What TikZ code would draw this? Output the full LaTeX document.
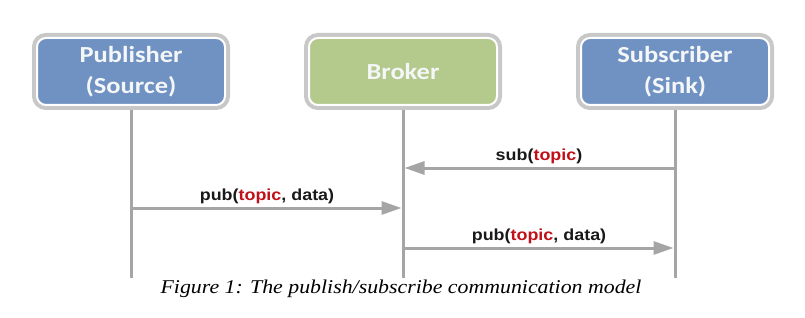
\documentclass[tikz,border=0pt]{standalone}
\usepackage{fontspec}
\usepackage{tikz}
\usepackage{xcolor}
\usetikzlibrary{arrows.meta}
\setmainfont{Liberation Serif}
\newfontfamily\boxfont[FakeStretch=1.15]{Carlito}
\newfontfamily\msgfont[FakeStretch=1.12]{Liberation Sans}
\newfontfamily\capfont[FakeStretch=1.12]{Liberation Serif}
\definecolor{pubblue}{RGB}{111,146,194}
\definecolor{brogreen}{RGB}{180,201,140}
\definecolor{frame}{RGB}{200,200,200}
\definecolor{wire}{RGB}{165,165,165}
\definecolor{topicred}{RGB}{192,16,24}
\definecolor{boxtext}{RGB}{244,246,248}

\begin{document}
\begin{tikzpicture}[
      x=1pt, y=-1pt,
      >={Triangle[length=20pt, width=13pt]},
      actor/.style={rounded corners=9pt, minimum width=188pt,
                    minimum height=67pt, align=center, text=boxtext,
                    font=\boxfont\bfseries\fontsize{23}{31}\selectfont,
                    draw=white, line width=2pt,
                    preaction={draw=frame, line width=10pt}},
      life/.style={wire, line width=3pt, shorten <=4pt},
      msg/.style={->, wire, line width=3pt, shorten >=1.5pt, shorten <=1.5pt},
      lbl/.style={font=\msgfont\bfseries\fontsize{16}{18}\selectfont,
                  text=black!90, inner sep=0pt, above=3pt},
    ]
    \useasboundingbox (0,0) rectangle (805,318);

    % --- boxes ---
    \node[actor, fill=pubblue] (pub) at (131,71.5) {Publisher\\(Source)};
    \node[actor, fill=brogreen] (bro) at (403,71.5) {Broker};
    \node[actor, fill=pubblue] (sub) at (675,71.5) {Subscriber\\(Sink)};

    % --- lifelines ---
    \coordinate (pubend) at (131,278);
    \coordinate (broend) at (403,278);
    \coordinate (subend) at (675,278);
    \draw[life] (pub.south) -- (pubend);
    \draw[life] (bro.south) -- (broend);
    \draw[life] (sub.south) -- (subend);

    % --- messages ---
    \coordinate (sub-s) at (675,168);
    \coordinate (bro-s) at (403,168);
    \coordinate (pub-p) at (131,208);
    \coordinate (bro-p) at (403,208);
    \coordinate (bro-f) at (403,248);
    \coordinate (sub-f) at (675,248);
    \draw[msg] (sub-s) -- (bro-s)
      node[lbl, midway] {sub(\textcolor{topicred}{topic})};
    \draw[msg] (pub-p) -- (bro-p)
      node[lbl, midway] {pub(\textcolor{topicred}{topic}, data)};
    \draw[msg] (bro-f) -- (sub-f)
      node[lbl, midway] {pub(\textcolor{topicred}{topic}, data)};

    % --- caption ---
    \node[font=\capfont\itshape\fontsize{19.5}{22}\selectfont, anchor=base]
      (cap) at (401,293) {Figure 1: The publish/subscribe communication model};
  \end{tikzpicture}
\end{document}
